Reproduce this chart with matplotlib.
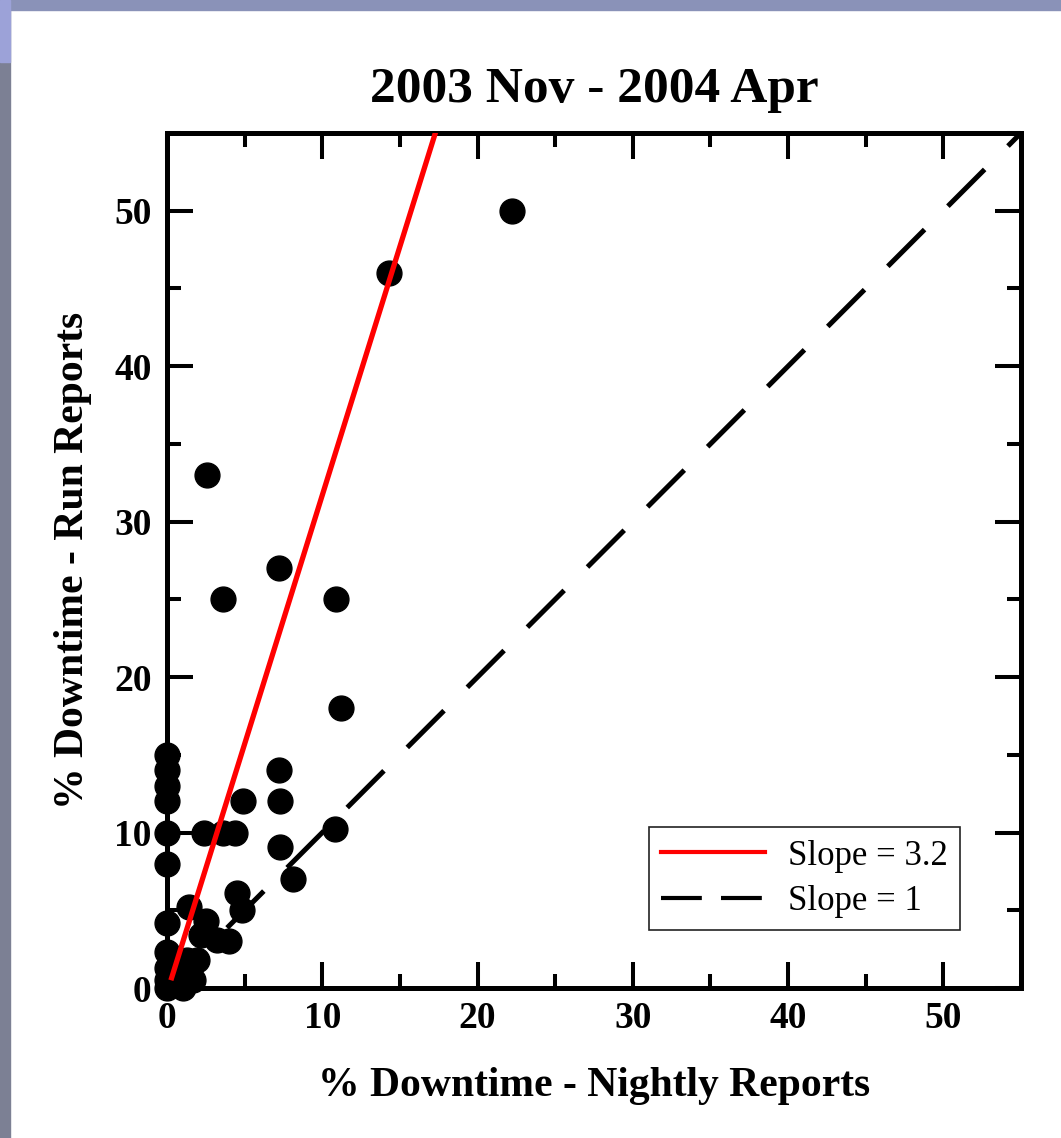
import numpy as np
import matplotlib
matplotlib.use("Agg")
import matplotlib.pyplot as plt
from matplotlib.lines import Line2D
from matplotlib.patches import Rectangle

plt.rcParams["font.family"] = ["Liberation Serif", "DejaVu Serif"]

# % downtime from nightly reports (x) vs run reports (y)
nightly = [0, 0, 0, 0, 0, 0, 0, 0, 0, 0, 0,
           1.0, 0.8, 1.7, 1.3, 1.9, 1.4, 2.5, 2.2, 3.2, 4.0,
           4.5, 4.8, 2.4, 3.6, 4.4, 4.9, 7.3, 7.2, 7.3, 10.8,
           8.1, 11.2, 10.9, 3.6, 7.2, 2.6, 14.3, 22.2]
run = [15, 14, 13, 12, 10, 8, 4.2, 2.3, 1.3, 0.5, 0,
       0, 0.5, 0.5, 1.8, 1.8, 5.2, 4.3, 3.4, 3.1, 3.0,
       6.1, 5.0, 10, 10, 10, 12, 12, 14, 9.1, 10.2,
       7.0, 18, 25, 25, 27, 33, 46, 50]

fit_slope = 3.2
fit_intercept = -0.3
fit_x = [0.3, 17.5]
unity_x = [0, 55]

fig = plt.figure(figsize=(10.61, 11.38), dpi=100)
fig.patch.set_facecolor("white")
# slide background strips
fig.add_artist(Rectangle((0, 0), 10 / 1061, 1, transform=fig.transFigure,
                         color="#7c8094", zorder=0))
fig.add_artist(Rectangle((0, 1 - 10 / 1138), 1, 10 / 1138, transform=fig.transFigure,
                         color="#8a92b8", zorder=0))
fig.add_artist(Rectangle((0, 1 - 62 / 1138), 10 / 1061, 62 / 1138, transform=fig.transFigure,
                         color="#9ca2d8", zorder=0))

ax = fig.add_axes([167 / 1061, 1 - 988 / 1138, 854 / 1061, 855 / 1138])

ax.scatter(nightly, run, s=320, color="black", zorder=3, clip_on=False)

fx = np.array(fit_x)
ax.plot(fx, fit_slope * fx + fit_intercept, color="red", lw=3.8, zorder=4)
ax.plot(unity_x, unity_x, color="black", lw=3.6, dashes=(10.4, 6.6), zorder=2)

ax.set_xlim(0, 55)
ax.set_ylim(0, 55)
ax.set_xticks(range(0, 51, 10))
ax.set_yticks(range(0, 51, 10))
ax.set_xticks(range(5, 56, 10), minor=True)
ax.set_yticks(range(5, 56, 10), minor=True)
ax.tick_params(which="both", direction="in", top=True, right=True, width=2.9)
ax.tick_params(which="major", length=19)
ax.tick_params(which="minor", length=10)
ax.tick_params(axis="x", which="major", pad=9)
ax.tick_params(axis="y", which="major", pad=11)
for lab in ax.get_xticklabels() + ax.get_yticklabels():
    lab.set_fontsize(27)
    lab.set_fontweight("bold")
for sp in ax.spines.values():
    sp.set_linewidth(3.6)

ax.set_title("2003 Nov - 2004 Apr", fontsize=37, fontweight="bold", pad=22)
ax.set_xlabel("% Downtime - Nightly Reports", fontsize=30, fontweight="bold", labelpad=23)
ax.set_ylabel("% Downtime - Run Reports", fontsize=30, fontweight="bold", labelpad=16)

handles = [Line2D([], [], color="red", lw=3),
           Line2D([], [], color="black", lw=3, dashes=(9.8, 4.6))]
leg = ax.legend(handles, ["Slope = 3.2", "Slope = 1"], loc="lower right",
                bbox_to_anchor=(0.9286, 0.068), borderaxespad=0, fontsize=25,
                fancybox=False, edgecolor="#222222", framealpha=1,
                handlelength=3.0, handletextpad=0.66, labelspacing=0.35,
                borderpad=0.35)
leg.get_frame().set_linewidth(1.2)

fig.savefig("out.png", dpi=100)
